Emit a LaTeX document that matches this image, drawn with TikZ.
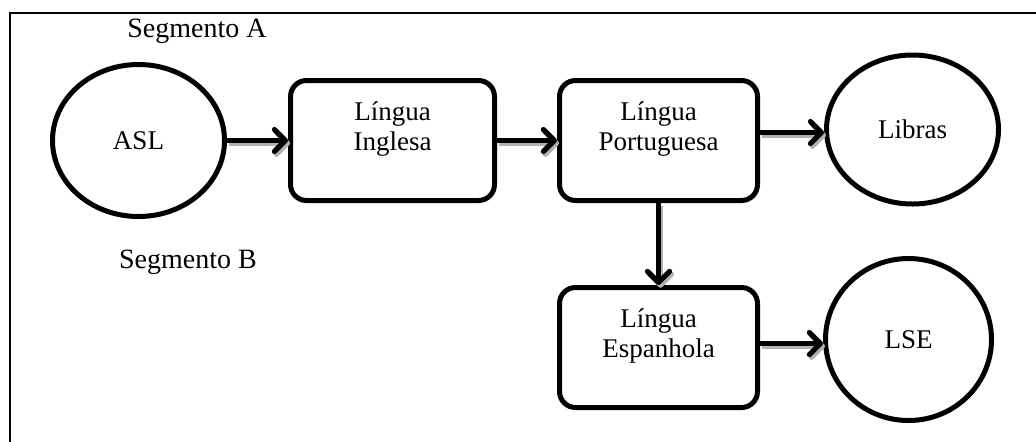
\documentclass[tikz,border=0pt]{standalone}
\usepackage{fontspec}
\setmainfont{Liberation Serif}
\usetikzlibrary{arrows.meta,positioning,shapes.geometric}

\tikzset{
  lang node/.style={draw,ellipse,line width=2.5pt,minimum width=86pt,minimum height=76pt,
    inner sep=0pt,font=\fontsize{13.5}{15}\selectfont},
  box node/.style={draw,rectangle,rounded corners=8pt,line width=2.5pt,minimum width=99pt,
    minimum height=60pt,inner sep=0pt,align=center,text depth=14pt,font=\fontsize{13.5}{15}\selectfont},
  seg label/.style={font=\fontsize{14}{16}\selectfont},
  flow/.style={->,line width=2.6pt,
    preaction={draw=gray!60,line width=2.6pt,transform canvas={shift={(1pt,-1.4pt)}}}}
}

\begin{document}
\begin{tikzpicture}[x=0.5pt,y=-0.5pt,>={Straight Barb[length=5.5pt,width=11pt,line cap=round,line join=round]}]
  \useasboundingbox (0,0) rectangle (1036,441);
  \clip (0,0) rectangle (1036,441);

  % frame
  \draw[line width=1pt] (10,13) rectangle (1050,460);

  \node[seg label] (sega) at (197,31) {Segmento A};
  \node[seg label] (segb) at (188,262) {Segmento B};

  \node[lang node] (asl) at (138.5,140.5) {ASL};
  \node[box node,minimum width=102pt] (ingl) [right=30.5pt of asl] {Língua\\Inglesa};
  \node[box node] (port) [right=30pt of ingl] {Língua\\Portuguesa};
  \node[lang node,minimum height=74.5pt] (libras) [right=32pt of port,yshift=5.5pt] {Libras};
  \node[box node] (esp) [below=41pt of port] {Língua\\Espanhola};
  \node[lang node,minimum width=83pt,minimum height=81pt] (lse) [right=31.5pt of esp,yshift=4pt] {LSE};

  \draw[flow] (asl) -- (ingl);
  \draw[flow] (ingl) -- (port);
  \draw[flow] ([yshift=4pt]port.east) -- ([yshift=4pt]port.east -| libras.west);
  \draw[flow] (port) -- (esp);
  \draw[flow] ([yshift=2pt]esp.east) -- ([yshift=2pt]esp.east -| lse.west);

\end{tikzpicture}
\end{document}
